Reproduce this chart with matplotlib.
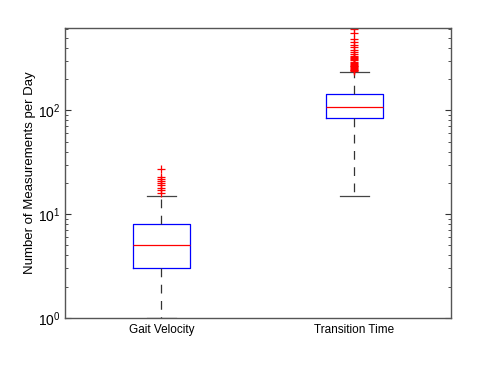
import matplotlib
matplotlib.use("Agg")
import matplotlib.pyplot as plt
from matplotlib.ticker import LogLocator, NullFormatter

plt.rcParams['font.family'] = ['Liberation Sans', 'DejaVu Sans']

# summary values
labels = ["Gait Velocity", "Transition Time"]
q1 = [3, 84]
med = [5, 107]
q3 = [8, 143]
whislo = [1, 15]
whishi = [15, 235]
fliers_gait = [16, 17, 18, 19, 20, 21, 22, 23, 27]
fliers_trans = [238, 242, 246, 250, 255, 260, 265, 270, 276, 282, 288, 295,
                302, 310, 318, 326, 335, 348, 365, 385, 410, 430, 455, 485,
                560, 605]
fliers = [fliers_gait, fliers_trans]

stats = []
for i in range(len(labels)):
    stats.append(dict(label=labels[i], q1=q1[i], med=med[i], q3=q3[i],
                      whislo=whislo[i], whishi=whishi[i], fliers=fliers[i]))

fig = plt.figure(figsize=(4.98, 3.74), dpi=100)
ax = fig.add_axes([0.1305, 0.1497, 0.7751, 0.7754])

ax.bxp(stats, positions=[1, 2], widths=0.3, showfliers=True,
       boxprops=dict(color='#0000ff', linewidth=0.9),
       medianprops=dict(color='#ff0000', linewidth=0.9),
       whiskerprops=dict(color='#333333', linewidth=0.9, linestyle=(0, (7, 6))),
       capprops=dict(color='#444444', linewidth=0.9),
       capwidths=0.15,
       flierprops=dict(marker='+', markeredgecolor='#ff0000', markersize=6,
                       markeredgewidth=0.9, linestyle='none'))

ax.set_yscale('log')
ax.set_ylim(1, 620)
ax.set_xlim(0.5, 2.5)
ax.yaxis.set_major_locator(LogLocator(base=10, numticks=10))
ax.yaxis.set_minor_locator(LogLocator(base=10, subs=range(2, 10), numticks=20))
ax.yaxis.set_minor_formatter(NullFormatter())
ax.tick_params(axis='y', which='both', direction='in', right=True,
               labelsize=10, color='#333333')
ax.tick_params(axis='y', which='major', length=4)
ax.tick_params(axis='y', which='minor', length=2)
ax.tick_params(axis='x', length=0, labelsize=8.5, pad=4)
for s in ax.spines.values():
    s.set_color('#555555')
    s.set_linewidth(1.0)

ax.set_ylabel("Number of Measurements per Day", fontsize=9.5, labelpad=1)

fig.savefig("out.png", dpi=100)
